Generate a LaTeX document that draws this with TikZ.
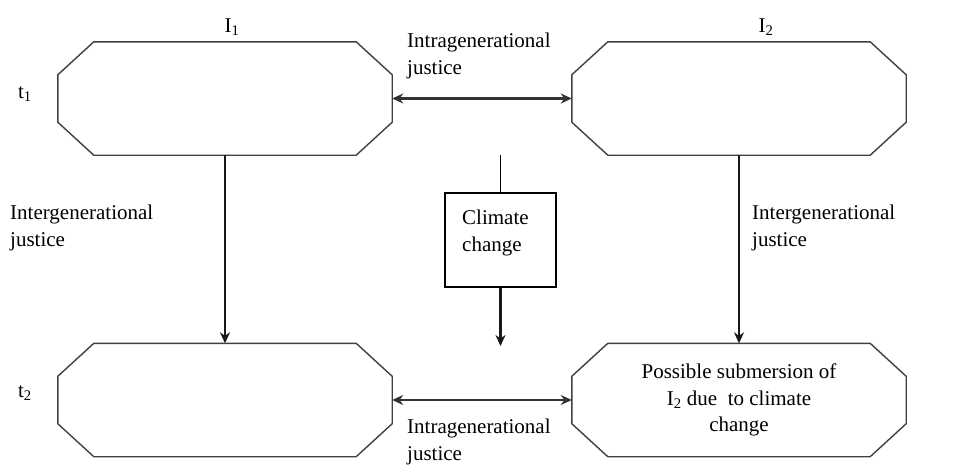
\documentclass[tikz,border=0pt]{standalone}
\usepackage{fontspec}
\setmainfont{LiberationSerif}[Extension=.ttf,UprightFont=*-Regular,BoldFont=*-Bold,ItalicFont=*-Italic]
\usetikzlibrary{arrows.meta}
\newcommand\octframe[1]{%
  \draw[octline] ([xshift=36pt]#1.north west) -- ([xshift=-36pt]#1.north east)
    -- ([yshift=-33pt]#1.north east) -- ([yshift=33pt]#1.south east)
    -- ([xshift=-36pt]#1.south east) -- ([xshift=36pt]#1.south west)
    -- ([yshift=33pt]#1.south west) -- ([yshift=-33pt]#1.north west) -- cycle;}
\begin{document}
\begin{tikzpicture}[x=1pt,y=-1pt,
  every node/.style={font=\fontsize{21}{26.5}\selectfont},
  octline/.style={draw=black!75, line width=1.4pt},
  oct/.style={rectangle, draw=none,
    minimum width=334pt, minimum height=113pt, inner sep=0pt, align=center},
  tip/.style={Stealth[length=11pt,width=10pt]},
  arr/.style={line width=2.2pt, black!90, -{Stealth[length=11pt,width=10pt]}},
  darr/.style={line width=2.2pt, black!80, {Stealth[length=11pt,width=10pt]}-{Stealth[length=11pt,width=10pt]}},
  lbl/.style={align=left, anchor=north west, inner sep=0pt}]
\useasboundingbox (0,0) rectangle (974,472);
\node[oct] (a) at (225,98.5) {};
\node[oct] (b) at (739,98.5) {};
\node[oct] (c) at (225,400) {};
\node[oct] (d) at (739,400) {Possible submersion of\\ I\textsubscript{2} due\ \ to climate\\ change};
\octframe{a}\octframe{b}\octframe{c}\octframe{d}
\node[draw, line width=1.4pt, minimum width=111pt, minimum height=94pt, inner sep=0pt] (cc) at (500.5,240) {};
\node[lbl, anchor=west] (cct) at (462,233) {Climate\\change};
\coordinate (cctop) at (500.5,155);
\coordinate (ccend) at (500.5,346);
\node (i1) at (232,27) {I\textsubscript{1}};
\node (i2) at (766,27) {I\textsubscript{2}};
\node (t1) at (25,94) {t\textsubscript{1}};
\node (t2) at (25,393) {t\textsubscript{2}};
\node[lbl] (l1) at (407,33) {Intragenerational\\justice};
\node[lbl] (l2) at (407,419) {Intragenerational\\justice};
\node[lbl] (l3) at (10,205) {Intergenerational\\justice};
\node[lbl] (l4) at (752,205) {Intergenerational\\justice};
\draw[darr] (a.east) -- (b.west);
\draw[darr] (c.east) -- (d.west);
\draw[arr] (a.south) -- (c.north);
\draw[arr] (b.south) -- (d.north);
\draw[line width=1.6pt] (cctop) -- (cc.north);
\draw[arr] (cc.south) -- (ccend);
\end{tikzpicture}
\end{document}
